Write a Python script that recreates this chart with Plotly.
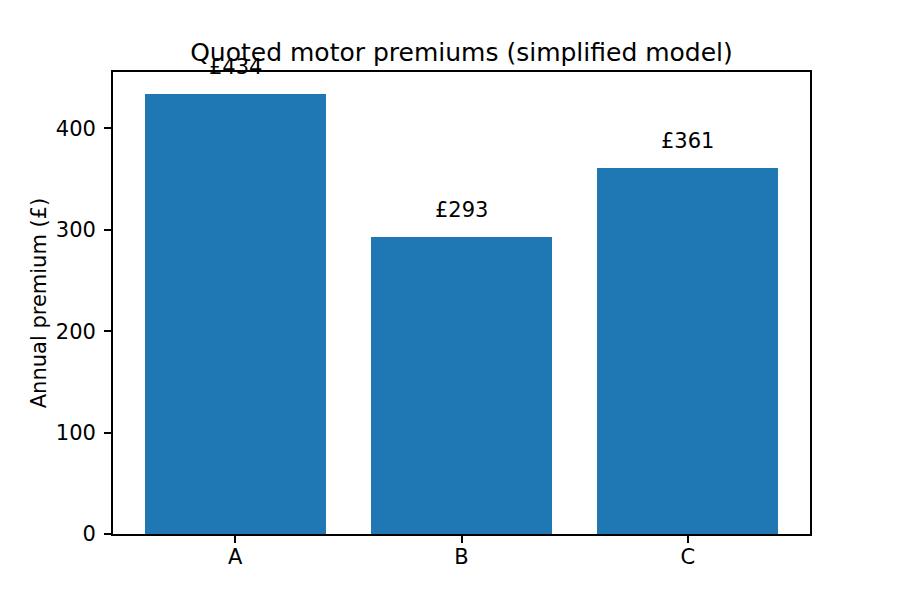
import plotly.graph_objects as go

categories = ["A", "B", "C"]
premiums = [434, 293, 361]
labels = ["£434", "£293", "£361"]

FONT = "DejaVu Sans"
BLUE = "#1f77b4"

fig = go.Figure()
fig.add_trace(go.Bar(
    x=[0, 1, 2], y=premiums, width=0.8,
    marker=dict(color=BLUE, line=dict(width=0)),
    hoverinfo="skip",
))

for i, (v, t) in enumerate(zip(premiums, labels)):
    fig.add_annotation(x=i, y=v, yshift=27, text=t, showarrow=False,
                       xref="x", yref="y", yanchor="middle",
                       font=dict(family=FONT, size=21, color="black"))

fig.update_layout(
    width=900, height=600,
    margin=dict(l=105, r=98, t=64, b=74),
    paper_bgcolor="white", plot_bgcolor="white",
    showlegend=False,
    font=dict(family=FONT, size=21, color="black"),
    title=dict(text="Quoted motor premiums (simplified model)",
               x=0.5, xref="paper", xanchor="center",
               y=1, yref="paper", yanchor="bottom",
               pad=dict(b=11),
               font=dict(family=FONT, size=25, color="black")),
    bargap=0,
)
fig.update_xaxes(
    range=[-0.54, 2.54], tickmode="array", tickvals=[0, 1, 2], ticktext=categories,
    showline=True, linecolor="black", linewidth=1.67, mirror=True,
    ticks="outside", ticklen=7, tickwidth=1.67, tickcolor="black",
    ticklabelstandoff=-4,
    showgrid=False, zeroline=False,
)
fig.update_yaxes(
    range=[0, 455.7], tickvals=[0, 100, 200, 300, 400],
    showline=True, linecolor="black", linewidth=1.67, mirror=True,
    ticks="outside", ticklen=7, tickwidth=1.67, tickcolor="black",
    ticklabelstandoff=4,
    showgrid=False, zeroline=False,
    title=dict(text="Annual premium (£)", standoff=4,
               font=dict(family=FONT, size=21, color="black")),
)

fig.write_html("out.html")
